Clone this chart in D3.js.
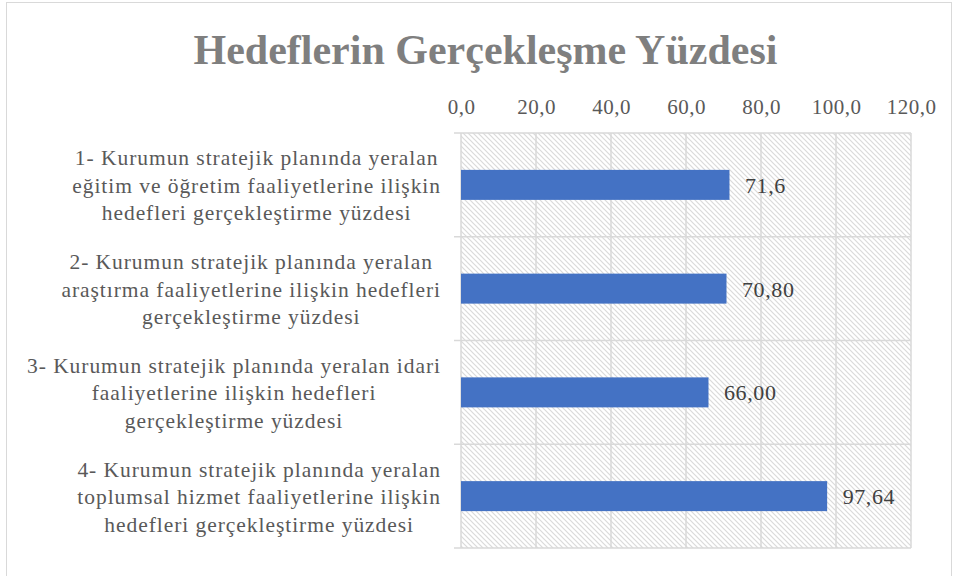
<!DOCTYPE html>
<html><head><meta charset="utf-8">
<script src="https://cdn.jsdelivr.net/npm/d3@7/dist/d3.min.js"></script>
<style>body{margin:0;background:#fff;} svg{display:block;}</style>
</head><body>
<script>
const title = "Hedeflerin Gerçekleşme Yüzdesi";
const categories = [
  ["1- Kurumun stratejik planında yeralan", "eğitim ve öğretim faaliyetlerine ilişkin", "hedefleri gerçekleştirme yüzdesi"],
  ["2- Kurumun stratejik planında yeralan", "araştırma faaliyetlerine ilişkin hedefleri", "gerçekleştirme yüzdesi"],
  ["3- Kurumun stratejik planında yeralan idari", "faaliyetlerine ilişkin hedefleri", "gerçekleştirme yüzdesi"],
  ["4- Kurumun stratejik planında yeralan", "toplumsal hizmet faaliyetlerine ilişkin", "hedefleri gerçekleştirme yüzdesi"]
];
const values = [71.6, 70.80, 66.00, 97.64];
const valueLabels = ["71,6", "70,80", "66,00", "97,64"];
const ticks = [0, 20, 40, 60, 80, 100, 120];

const W = 953, H = 576;
const m = {left: 461, right: 911, top: 133, bottom: 548};
const svg = d3.select("body").append("svg").attr("width", W).attr("height", H);
const serif = "'Liberation Serif','Times New Roman',serif";

const defs = svg.append("defs");
const pat = defs.append("pattern").attr("id", "hatch").attr("patternUnits", "userSpaceOnUse")
  .attr("width", 5).attr("height", 5);
pat.append("rect").attr("width", 5).attr("height", 5).attr("fill", "#fff");
pat.append("path").attr("d", "M0,0 L5,5 M-1,4 L1,6 M4,-1 L6,1")
  .attr("stroke", "#dadada").attr("stroke-width", 1.2);

// outer border
svg.append("rect").attr("x", 6.5).attr("y", 2.5).attr("width", 945).attr("height", 590)
  .attr("fill", "none").attr("stroke", "#d9d9d9").attr("stroke-width", 1);

const x = d3.scaleLinear().domain([0, 120]).range([m.left, m.right]);
const y = d3.scaleBand().domain(d3.range(categories.length)).range([m.top, m.bottom]).paddingInner(0).paddingOuter(0);

svg.append("rect").attr("x", m.left).attr("y", m.top).attr("width", m.right - m.left)
  .attr("height", m.bottom - m.top).attr("fill", "url(#hatch)");

// vertical gridlines
svg.append("g").selectAll("line").data(ticks).join("line")
  .attr("x1", d => x(d)).attr("x2", d => x(d))
  .attr("y1", m.top).attr("y2", m.bottom)
  .attr("stroke", "#d9d9d9").attr("stroke-width", 1.5);

// horizontal category boundary lines with ticks
const bounds = d3.range(categories.length + 1).map(i => m.top + i * y.bandwidth());
svg.append("g").selectAll("line").data(bounds).join("line")
  .attr("x1", m.left - 7).attr("x2", m.right)
  .attr("y1", d => d).attr("y2", d => d)
  .attr("stroke", "#d9d9d9").attr("stroke-width", 1.5);

// top axis labels
const xAxis = d3.axisTop(x).tickValues(ticks).tickSize(0).tickPadding(0)
  .tickFormat(d => d3.format(".1f")(d).replace(".", ","));
const gx = svg.append("g").attr("transform", `translate(0,${113.5})`).call(xAxis);
gx.select(".domain").remove();
gx.selectAll("text").attr("font-family", serif).attr("font-size", 21).attr("fill", "#595959")
  .attr("letter-spacing", 0.5).attr("dy", 0);

// bars
const barH = 30;
svg.append("g").selectAll("rect").data(values).join("rect")
  .attr("x", x(0)).attr("y", (d, i) => y(i) + y.bandwidth() / 2 - barH / 2)
  .attr("width", d => x(d) - x(0)).attr("height", barH)
  .attr("fill", "#4472c4");

// value labels
svg.append("g").selectAll("text").data(values).join("text")
  .attr("x", d => x(d) + 15.5).attr("y", (d, i) => y(i) + y.bandwidth() / 2 + 8)
  .attr("font-family", serif).attr("font-size", 22).attr("letter-spacing", 0.6).attr("fill", "#404040")
  .text((d, i) => valueLabels[i]);

// category labels
const lh = 27.6;
categories.forEach((lines, i) => {
  const g = svg.append("g");
  const cy = y(i) + y.bandwidth() / 2;
  const texts = g.selectAll("text").data(lines).join("text")
    .attr("font-family", serif).attr("font-size", 21.5).attr("fill", "#595959")
    .attr("letter-spacing", 0.95)
    .attr("text-anchor", "middle")
    .attr("y", (d, j) => cy + (j - (lines.length - 1) / 2) * lh + 8)
    .text(d => d);
  let maxW = 0;
  texts.each(function () { maxW = Math.max(maxW, this.getComputedTextLength()); });
  texts.attr("x", 441 - maxW / 2);
});

// title
svg.append("text").attr("x", 485.5).attr("y", 64).attr("text-anchor", "middle")
  .attr("font-family", serif).attr("font-weight", "bold").attr("font-size", 42)
  .attr("fill", "#7f7f7f").text(title);
</script>
</body></html>
